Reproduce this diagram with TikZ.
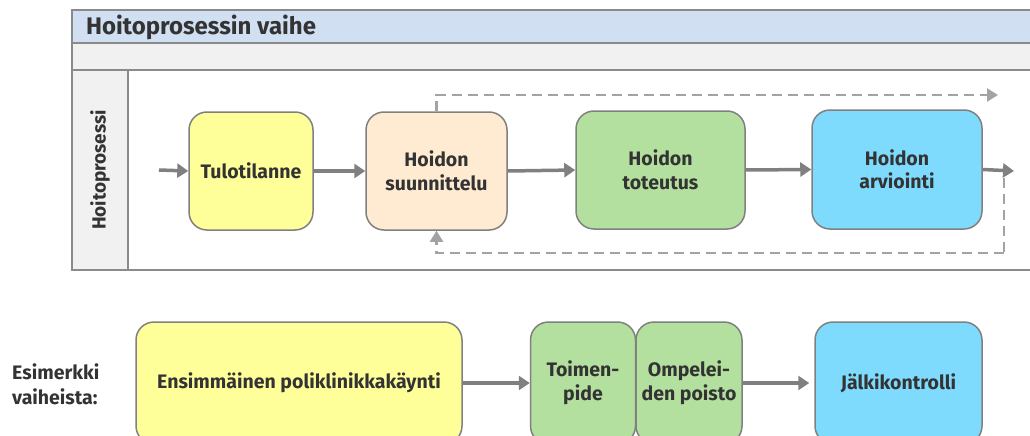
\documentclass[tikz,border=0pt]{standalone}
\usepackage{fontspec}
\setmainfont{Fira Sans}
\usetikzlibrary{arrows.meta}
\definecolor{headblue}{HTML}{D0DFF1}
\definecolor{bandgray}{HTML}{F1F1F1}
\definecolor{poolgray}{HTML}{8A8A8A}
\definecolor{boxgray}{HTML}{808080}
\definecolor{arrowgray}{HTML}{808080}
\definecolor{dashgray}{HTML}{A3A3A3}
\definecolor{txt}{HTML}{333333}
\definecolor{cyel}{HTML}{FFFF99}
\definecolor{cpeach}{HTML}{FFEBD1}
\definecolor{cgreen}{HTML}{B4E09F}
\definecolor{ccyan}{HTML}{7EDBFE}
\begin{document}
\begin{tikzpicture}[x=1pt,y=-1pt,
  poolline/.style={draw=poolgray,line width=1.8pt},
  proc/.style={draw=boxgray,line width=1.5pt,rounded corners=18pt,align=center,
    font=\fontsize{19.5}{23.5}\selectfont\bfseries,text=txt,inner sep=0pt},
  flow/.style={draw=arrowgray,line width=3.5pt,-{Triangle[length=11pt,width=14pt]}},
  dflow/.style={draw=dashgray,line width=2.2pt,dash pattern=on 10pt off 6pt,
    -{Triangle[length=11pt,width=13pt]}},
  lbl/.style={font=\fontsize{19.5}{25}\selectfont\bfseries,text=txt,inner sep=0pt}]
\useasboundingbox (0,0) rectangle (1030,436);
\clip (0,0) rectangle (1030,436);
% pool
\fill[headblue] (72,10) rectangle (1040,43);
\fill[bandgray] (72,43) rectangle (1040,70);
\fill[bandgray] (72,70) rectangle (128,270);
\draw[poolline] (1040,10) -- (72,10) -- (72,270) -- (1040,270);
\draw[poolline] (72,43) -- (1040,43);
\draw[poolline] (72,70) -- (1040,70);
\draw[poolline] (128,70) -- (128,270);
\node[anchor=west,font=\fontsize{24}{28}\selectfont\bfseries,text=txt,inner sep=0pt] (head) at (86,27) {Hoitoprosessin vaihe};
\node[lbl,rotate=90,font=\fontsize{19}{23}\selectfont\bfseries] (lane) at (100,170) {Hoitoprosessi};
% process boxes
\node[proc,fill=cyel,minimum width=124pt,minimum height=118pt] (tulo) at (251,171) {Tulotilanne};
\node[proc,fill=cpeach,minimum width=141pt,minimum height=118pt] (suun) at (436.5,171) {Hoidon\\suunnittelu};
\node[proc,fill=cgreen,minimum width=169pt,minimum height=118pt] (tot) at (660.5,170) {Hoidon\\toteutus};
\node[proc,fill=ccyan,minimum width=170pt,minimum height=119pt] (arv) at (897,169.5) {Hoidon\\arviointi};
\coordinate (in) at (159,170);
\coordinate (out) at (1014,171);
\coordinate (topend) at (998,95);
\coordinate (fb) at (1004,178);
\coordinate (fbl) at (1004,253);
\draw[dashgray,line width=2.2pt,dash pattern=on 10pt off 6pt] (fb) -- (fbl);
\draw[dflow] (suun.north) |- (topend);
\draw[dflow] (fbl) -| (suun.south);
\draw[flow] (in) -- (tulo.west);
\draw[flow] (tulo.east) -- (suun.west);
\draw[flow] (suun.east) -- (tot.west);
\draw[flow] (tot.east) -- (arv.west);
\draw[flow] (arv.east) -- (out);
% example row
\node[lbl,align=left,anchor=west] (esim) at (12,384) {Esimerkki\\vaiheista:};
\node[proc,fill=cyel,minimum width=326pt,minimum height=122pt] (ens) at (299,383) {Ensimmäinen poliklinikkakäynti};
\node[proc,fill=cgreen,minimum width=105pt,minimum height=122pt] (toim) at (583,383) {Toimen-\\pide};
\node[proc,fill=cgreen,minimum width=106pt,minimum height=122pt] (omp) at (689,383) {Ompelei-\\den poisto};
\node[proc,fill=ccyan,minimum width=167pt,minimum height=122pt] (jalk) at (898.5,383) {Jälkikontrolli};
\draw[flow] (ens.east) -- (toim.west);
\draw[flow] (omp.east) -- ([xshift=-5pt]jalk.west);
\end{tikzpicture}
\end{document}
